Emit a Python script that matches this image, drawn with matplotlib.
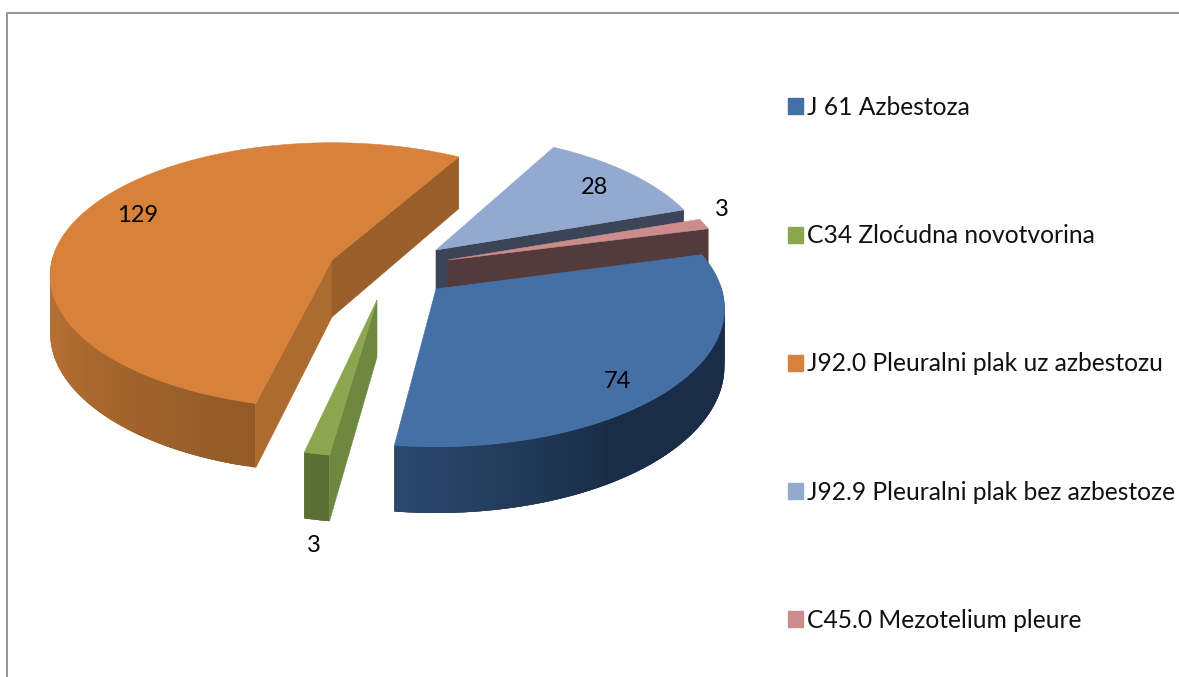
import numpy as np
import matplotlib
matplotlib.use("Agg")
import matplotlib.pyplot as plt
from matplotlib.patches import Patch, Polygon

labels = ["J 61 Azbestoza", "C34 Zloćudna novotvorina", "J92.0 Pleuralni plak uz azbestozu",
          "J92.9 Pleuralni plak bez azbestoze", "C45.0 Mezotelium pleure"]
values = [74, 3, 129, 28, 3]

top_colors = ["#4570A6", "#8AA64F", "#D8813B", "#93A9CF", "#CC8C8C"]
end_wall_colors = [None, None, "#9A5E2A", "#3B4557", "#533A3B"]
start_wall_colors = [None, "#6E8840", "#AD6B30", None, None]
side_near = ["#2B4A6E", "#5A6F33", "#925A27", "#3B4557", "#533A3B"]
side_far = ["#1A2D48", "#5A6F33", "#B56F32", "#3B4557", "#533A3B"]

# apex of each exploded slice, in pixels
apex_x = [436, 377, 332, 436, 448]
apex_y = [289, 300, 260, 250, 260]
radius_scale = [1.02, 1.0, 1.0, 0.975, 0.99]
# the picture's perspective is not quite the same for every slice
angle_nudge = [-1.2, 0.0, 1.0, 0.0, 0.0]
rad_b = [133.0, 135.0, 131.0, 135.0, 135.0]
persp = [0.14, 0.14, 0.117, 0.14, 0.14]
label_x = [617, 314, 138, 595, 722]
label_y = [382, 546, 216, 188, 209]

start_angle = -14.0
rad_a = 280.0
depth = 57.0


def project(theta, i, drop=0.0):
    u = np.cos(theta)
    v = np.sin(theta)
    s = 1.0 / (1.0 - persp[i] * v)
    sc = radius_scale[i]
    return apex_x[i] + sc * rad_a * u * s, apex_y[i] + sc * rad_b[i] * v * s + drop * depth * s


def lerp_color(c0, c1, t):
    a = np.array(matplotlib.colors.to_rgb(c0))
    b = np.array(matplotlib.colors.to_rgb(c1))
    return tuple(a + (b - a) * t)


fig = plt.figure(figsize=(11.79, 6.77), dpi=100)
ax = fig.add_axes([0, 0, 1, 1])
ax.set_xlim(0, 1179)
ax.set_ylim(677, 0)
ax.axis("off")

# chart frame, cut off on the right and bottom
ax.plot([7, 7, 1179], [677, 13, 13], color="#8C8C8C", lw=1.3)

fractions = np.array(values) / sum(values)
edges = np.radians(start_angle + np.concatenate([[0], np.cumsum(fractions)]) * 360)

for i in [3, 4, 2, 1, 0]:
    t0 = edges[i] + np.radians(angle_nudge[i])
    t1 = edges[i + 1] + np.radians(angle_nudge[i])
    x0, y0 = apex_x[i], apex_y[i]
    thetas = np.linspace(t0, t1, 120)
    rim_x, rim_y = project(thetas, i)

    # outer side, little overlapping quads for the shading
    front = thetas[np.sin(thetas) > -0.05]
    for k in range(len(front) - 1):
        a = front[k]
        b = front[min(k + 3, len(front) - 1)]
        xa, ya = project(a, i)
        xb, yb = project(b, i)
        xc, yc = project(b, i, drop=1)
        xd, yd = project(a, i, drop=1)
        if i == 0:
            t = np.clip((t1 - a) / 0.7, 0, 1)
        else:
            t = np.clip(abs(a - front[0]) / 1.0, 0, 1)
        col = lerp_color(side_near[i], side_far[i], t)
        ax.add_patch(Polygon([(xa, ya), (xb, yb), (xc, yc), (xd, yd)], closed=True, fc=col, lw=0))

    # cut walls that face the viewer
    if np.cos(t0) < 0 and start_wall_colors[i]:
        xr, yr = project(t0, i)
        xb, yb = project(t0, i, drop=1)
        ax.add_patch(Polygon([(x0, y0), (xr, yr), (xb, yb), (x0, y0 + depth)], closed=True,
                             fc=start_wall_colors[i], ec=start_wall_colors[i], lw=0.4))
    if np.cos(t1) > 0 and end_wall_colors[i]:
        xr, yr = project(t1, i)
        xb, yb = project(t1, i, drop=1)
        ax.add_patch(Polygon([(x0, y0), (xr, yr), (xb, yb), (x0, y0 + depth)], closed=True,
                             fc=end_wall_colors[i], ec=end_wall_colors[i], lw=0.4))

    # top face
    pts = [(x0, y0)] + list(zip(rim_x, rim_y))
    ax.add_patch(Polygon(pts, closed=True, fc=top_colors[i], ec=top_colors[i], lw=0.4))

for i, v in enumerate(values):
    ax.text(label_x[i], label_y[i], str(v), ha="center", va="center",
            fontsize=17, family="Lato", color="black")

handles = [Patch(fc=c, ec=c) for c in top_colors]
ax.legend(handles, labels, loc="upper left", bbox_to_anchor=(788, 96), bbox_transform=ax.transData,
          frameon=False, prop={"family": "Lato", "size": 17.7}, handlelength=0.62, handleheight=0.62,
          handletextpad=0.15, labelspacing=4.28, borderpad=0, borderaxespad=0, labelcolor="#111111")

plt.savefig("out.png", dpi=100)
